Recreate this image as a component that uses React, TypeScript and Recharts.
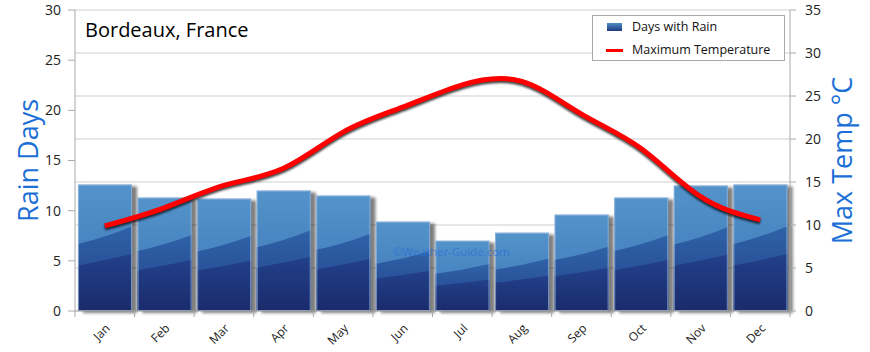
import React from 'react';
import { ComposedChart, Bar, Line, XAxis, YAxis, CartesianGrid, Legend } from 'recharts';

const months = ['Jan', 'Feb', 'Mar', 'Apr', 'May', 'Jun', 'Jul', 'Aug', 'Sep', 'Oct', 'Nov', 'Dec'];
const rainDays = [12.6, 11.3, 11.2, 12.0, 11.5, 8.9, 7.0, 7.8, 9.6, 11.3, 12.5, 12.6];
const maxTemp = [9.9, 12.0, 14.6, 16.6, 20.8, 23.7, 26.3, 26.7, 22.9, 18.9, 13.3, 10.6];
const rainTicks = [0, 5, 10, 15, 20, 25, 30];
const tempTicks = [0, 5, 10, 15, 20, 25, 30, 35];

const data = months.map((m, i) => ({ month: m, rain: rainDays[i], temp: maxTemp[i] }));

const FONT = '"Open Sans", "DejaVu Sans", sans-serif';
const BLUE_TEXT = '#1c6fd6';

// bar drawn in three tonal bands like the original glossy bars
const RainBar = (props: any) => {
  const { x, y, width: w, height: h } = props;
  if (!h || h <= 0) return null;
  const b = y + h;
  const midL = y + h * 0.47, midR = y + h * 0.33;
  const darkL = y + h * 0.64, darkR = y + h * 0.55;
  return (
    <g className="rain-bar">
      <rect x={x} y={y} width={w} height={h} fill="url(#gTop)" />
      <path d={`M${x},${midL} Q${x + w * 0.5},${midL - h * 0.05} ${x + w},${midR} L${x + w},${b} L${x},${b} Z`} fill="url(#gMid)" />
      <path d={`M${x},${darkL} Q${x + w * 0.5},${darkL - h * 0.04} ${x + w},${darkR} L${x + w},${b} L${x},${b} Z`} fill="url(#gDark)" />
      <rect x={x + 0.5} y={y + 0.5} width={w - 1} height={h - 1} fill="none" stroke="#9dbbe0" strokeOpacity={0.7} strokeWidth={1} />
    </g>
  );
};

const MonthTick = (props: any) => {
  const { x, y, payload, index, visibleTicksCount, width } = props;
  const half = payload && payload.offset ? payload.offset : (width && visibleTicksCount ? width / visibleTicksCount / 2 : 30);
  const last = index === (visibleTicksCount ?? 12) - 1;
  return (
    <g>
      <line x1={x - half} y1={y} x2={x - half} y2={y + 6} stroke="#aaa" />
      {last && <line x1={x + half} y1={y} x2={x + half} y2={y + 6} stroke="#aaa" />}
      <text
        x={x + 6}
        y={y + 18}
        textAnchor="end"
        transform={`rotate(-45, ${x + 6}, ${y + 18})`}
        fontSize={12}
        fontFamily={FONT}
        fill="#222"
      >
        {payload.value}
      </text>
    </g>
  );
};

const LegendBox = () => (
  <div
    style={{
      border: '1px solid #a8a8a8',
      background: '#fff',
      width: 193,
      height: 46,
      boxSizing: 'border-box',
      fontFamily: FONT,
      fontSize: 12.5,
      color: '#111',
      position: 'relative',
    }}
  >
    <div style={{ position: 'absolute', left: 14, top: 7, width: 15, height: 8, background: 'linear-gradient(#4f8cc6, #1f3a80)' }} />
    <div style={{ position: 'absolute', left: 39, top: 2, lineHeight: '18px' }}>Days with Rain</div>
    <div style={{ position: 'absolute', left: 13, top: 33, width: 17, height: 3, background: '#ff0000' }} />
    <div style={{ position: 'absolute', left: 39, top: 25, lineHeight: '18px' }}>Maximum Temperature</div>
  </div>
);

const sideLabel = (text: string, dx: number) => (props: any) => {
  const vb = props.viewBox || {};
  const cx = vb.x + dx;
  const cy = vb.y + vb.height / 2;
  return (
    <text
      x={cx}
      y={cy}
      textAnchor="middle"
      transform={`rotate(-90, ${cx}, ${cy})`}
      fontSize={27}
      fontFamily={FONT}
      fill={BLUE_TEXT}
    >
      {text}
    </text>
  );
};

export default function App() {
  return (
    <div style={{ position: 'absolute', left: 0, top: 0, width: 870, height: 352, background: '#fff' }}>
      <style>{`
        .rain-bar { filter: drop-shadow(5px 2px 1.5px rgba(0,0,0,0.5)); }
        .temp-line .recharts-line-curve { filter: drop-shadow(0px 2px 1px rgba(0,0,0,0.75)); }
      `}</style>
      <ComposedChart width={870} height={352} data={data} margin={{ top: 10, right: 0, bottom: 0, left: 0 }} barCategoryGap="5%">
        <defs>
          <linearGradient id="gTop" x1="0" y1="0" x2="0" y2="1">
            <stop offset="0%" stopColor="#5393ca" />
            <stop offset="100%" stopColor="#3b74b6" />
          </linearGradient>
          <linearGradient id="gMid" x1="0" y1="0" x2="0" y2="1">
            <stop offset="0%" stopColor="#2f62a8" />
            <stop offset="100%" stopColor="#233f88" />
          </linearGradient>
          <linearGradient id="gDark" x1="0" y1="0" x2="0" y2="1">
            <stop offset="0%" stopColor="#22408a" />
            <stop offset="100%" stopColor="#1a2b6b" />
          </linearGradient>
        </defs>
        <CartesianGrid yAxisId="right" vertical={false} stroke="#cfcfcf" />
        <XAxis
          dataKey="month"
          height={41}
          interval={0}
          tickLine={false}
          tickSize={0}
          tickMargin={0}
          axisLine={{ stroke: '#aaa' }}
          tick={<MonthTick />}
        />
        <YAxis
          yAxisId="left"
          width={75}
          domain={[0, 30]}
          ticks={rainTicks}
          tickSize={7}
          tickMargin={7}
          axisLine={{ stroke: '#aaa' }}
          tickLine={{ stroke: '#aaa' }}
          tick={{ fontSize: 14, fontFamily: FONT, fill: '#222' }}
          label={sideLabel('Rain Days', 38)}
        />
        <YAxis
          yAxisId="right"
          orientation="right"
          width={80}
          domain={[0, 35]}
          ticks={tempTicks}
          tickSize={6}
          tickMargin={9}
          axisLine={{ stroke: '#aaa' }}
          tickLine={{ stroke: '#aaa' }}
          tick={{ fontSize: 14, fontFamily: FONT, fill: '#222', textAnchor: 'start' }}
          label={sideLabel('Max Temp °C', 62)}
        />
        <Legend
          layout="vertical"
          align="center"
          verticalAlign="middle"
          content={<LegendBox />}
          wrapperStyle={{ position: 'absolute', top: 15, left: 592, right: 'auto', bottom: 'auto', width: 193, height: 46 }}
        />
        <Bar yAxisId="left" dataKey="rain" name="Days with Rain" shape={<RainBar />} isAnimationActive={false} />
        <Line
          yAxisId="right"
          className="temp-line"
          type="natural"
          dataKey="temp"
          name="Maximum Temperature"
          stroke="#ff0000"
          strokeWidth={5}
          dot={false}
          activeDot={false}
          isAnimationActive={false}
        />
      </ComposedChart>
      <div style={{ position: 'absolute', left: 85, top: 16, fontFamily: FONT, fontSize: 20, color: '#000' }}>
        Bordeaux, France
      </div>
      <div style={{ position: 'absolute', left: 393, top: 244, fontFamily: FONT, fontSize: 11.5, color: '#2a6fd6', opacity: 0.75 }}>
        ©Weather-Guide.com
      </div>
    </div>
  );
}
